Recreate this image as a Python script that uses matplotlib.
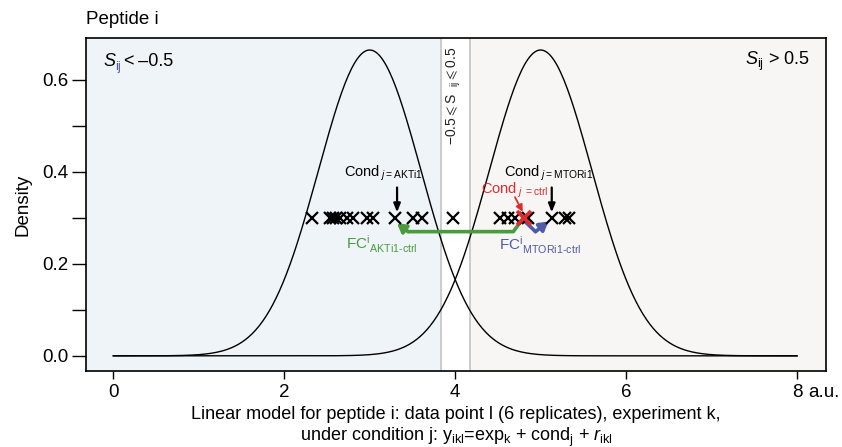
import numpy as np
import matplotlib.pyplot as plt
from matplotlib.ticker import MultipleLocator

plt.rcParams["font.family"] = ["Liberation Sans", "DejaVu Sans"]
plt.rcParams["mathtext.fontset"] = "custom"
plt.rcParams["mathtext.rm"] = "Liberation Sans"
plt.rcParams["mathtext.it"] = "Liberation Sans:italic"
plt.rcParams["mathtext.bf"] = "Liberation Sans:bold"

# ---------------------------------------------------------------------------
# Data
# ---------------------------------------------------------------------------
means = [3.0, 5.0]
sd = 0.6
x_grid = np.linspace(0, 8, 400)

replicates_x = [2.32, 2.54, 2.57, 2.61, 2.65, 2.74, 2.81, 2.97, 3.04, 3.30,
                3.51, 3.61, 3.98, 4.53, 4.62, 4.70, 4.85, 5.13, 5.29, 5.33]
replicate_y = 0.30
ctrl_x = 4.80
akt_x = 3.32
mtor_x = 5.13

region_left = 3.83
region_right = 4.17

green_path_x = [4.80, 4.68, 3.45]
green_path_y = [0.30, 0.27, 0.27]
green_tip = (3.32, 0.288)
blue_path_x = [4.80, 4.94]
blue_path_y = [0.295, 0.27]
blue_tip = (5.09, 0.292)

xticks = [0, 2, 4, 6, 8]
yticks = [0.0, 0.2, 0.4, 0.6]

c_green = "#4b9a3e"
c_blue = "#4f5aa8"
c_red = "#e02a2e"

# ---------------------------------------------------------------------------
# Figure
# ---------------------------------------------------------------------------
fig = plt.figure(figsize=(8.42, 4.47), dpi=100)
ax = fig.add_axes([0.1021, 0.170, 0.879, 0.745])
xmin, xmax = -0.32, 8.34
ymin, ymax = -0.033, 0.691
ax.set_xlim(xmin, xmax)
ax.set_ylim(ymin, ymax)

ax.axvspan(xmin, region_left, color="#eff4f9", zorder=0)
ax.axvspan(region_right, xmax, color="#f7f6f4", zorder=0)
ax.axvline(region_left, color="#c4c4c4", lw=1.2, zorder=1)
ax.axvline(region_right, color="#c4c4c4", lw=1.2, zorder=1)

for m in means:
    dens = np.exp(-0.5 * ((x_grid - m) / sd) ** 2) / (sd * np.sqrt(2 * np.pi))
    ax.plot(x_grid, dens, color="black", lw=1.0, zorder=2)

# replicate crosses
ax.plot(replicates_x, [replicate_y] * len(replicates_x), "x", color="black",
        ms=8.5, mew=1.6, zorder=4)
ax.plot([ctrl_x], [replicate_y], "x", color=c_red, ms=9.5, mew=2.6, zorder=5)

# fold-change arrows
ax.plot(green_path_x, green_path_y, color=c_green, lw=2.6,
        solid_capstyle="round", solid_joinstyle="round", zorder=3)
ax.annotate("", xy=green_tip, xytext=(green_path_x[-1], green_path_y[-1]),
            arrowprops=dict(arrowstyle="-|>,head_length=0.5,head_width=0.3",
                            color=c_green, lw=2.6, shrinkA=0, shrinkB=0), zorder=3)
ax.plot(blue_path_x, blue_path_y, color=c_blue, lw=2.6,
        solid_capstyle="round", solid_joinstyle="round", zorder=3)
ax.annotate("", xy=blue_tip, xytext=(blue_path_x[-1], blue_path_y[-1]),
            arrowprops=dict(arrowstyle="-|>,head_length=0.5,head_width=0.3",
                            color=c_blue, lw=2.6, shrinkA=0, shrinkB=0), zorder=3)

# condition arrows
for xa in (akt_x, mtor_x):
    ax.annotate("", xy=(xa, 0.312), xytext=(xa, 0.366),
                arrowprops=dict(arrowstyle="-|>,head_length=0.5,head_width=0.2",
                                color="black", lw=1.6, shrinkA=0, shrinkB=0))
ax.annotate("", xy=(4.79, 0.313), xytext=(4.70, 0.345),
            arrowprops=dict(arrowstyle="-|>,head_length=0.4,head_width=0.2",
                            color=c_red, lw=1.3, shrinkA=0, shrinkB=0))

# labels
ax.text(3.16, 0.396, r"Cond$_{\ \mathit{j}\mathrm{=AKTi1}}$", ha="center",
        va="center", fontsize=10.5)
ax.text(5.09, 0.396, r"Cond$_{\ \mathit{j}\mathrm{=MTORi1}}$", ha="center",
        va="center", fontsize=10.5)
ax.text(4.70, 0.360, r"Cond$_{\ \mathit{j}\ \mathrm{=ctrl}}$", ha="center",
        va="center", fontsize=10.5, color=c_red)
ax.text(3.14, 0.243, r"FC$^{\mathrm{i}}_{\ \text{AKTi1-ctrl}}$", ha="center",
        va="center", fontsize=11, color=c_green)
ax.text(5.00, 0.240, r"FC$^{\mathrm{i}}_{\ \text{MTORi1-ctrl}}$", ha="center",
        va="center", fontsize=11, color=c_blue)

# region labels
ax.text(-0.125, 0.640, r"$\mathit{S}$", fontsize=13, va="center", ha="left")
ax.text(0.02, 0.627, "ij", fontsize=9, color=c_blue, va="center", ha="left")
ax.text(0.12, 0.640, "<\u2009\u20130.5", fontsize=13, va="center", ha="left")
ax.text(8.15, 0.640, r"$\mathit{S}_{\mathrm{ij}}$ > 0.5", fontsize=13,
        va="center", ha="right")
ax.text(3.99, 0.565, r"$-0.5 \leqslant \mathrm{S}\ \ _{\mathrm{ij}} \leqslant 0.5$",
        rotation=90, ha="center", va="center", fontsize=10, color="#222222")

# axes styling
ax.set_xticks(xticks)
ax.set_xticklabels([str(t) for t in xticks])
ax.set_yticks(yticks)
ax.set_yticklabels([f"{t:.1f}" for t in yticks])
ax.yaxis.set_minor_locator(MultipleLocator(0.1))
ax.tick_params(axis="both", which="major", labelsize=13.5, direction="out")
ax.tick_params(axis="y", which="both", length=10, width=1, pad=2.5)
ax.tick_params(axis="x", which="major", length=6, width=1, pad=3)
for s in ax.spines.values():
    s.set_linewidth(1.2)

ax.text(8.13, -0.080, "a.u.", fontsize=13.5, ha="left", va="center")
ax.set_ylabel("Density", fontsize=13.5, labelpad=8)
ax.set_xlabel("Linear model for peptide i: data point l (6 replicates), experiment k,\n"
              r"under condition j: y$_{\mathrm{ikl}}$=exp$_{\mathrm{k}}$ + cond$_{\mathrm{j}}$ + $\mathit{r}_{\mathrm{ikl}}$",
              fontsize=13, labelpad=4, linespacing=1.15)
ax.text(0.0, 1.03, "Peptide i", transform=ax.transAxes, fontsize=13.5,
        ha="left", va="bottom")

fig.savefig("out.png", dpi=100)
